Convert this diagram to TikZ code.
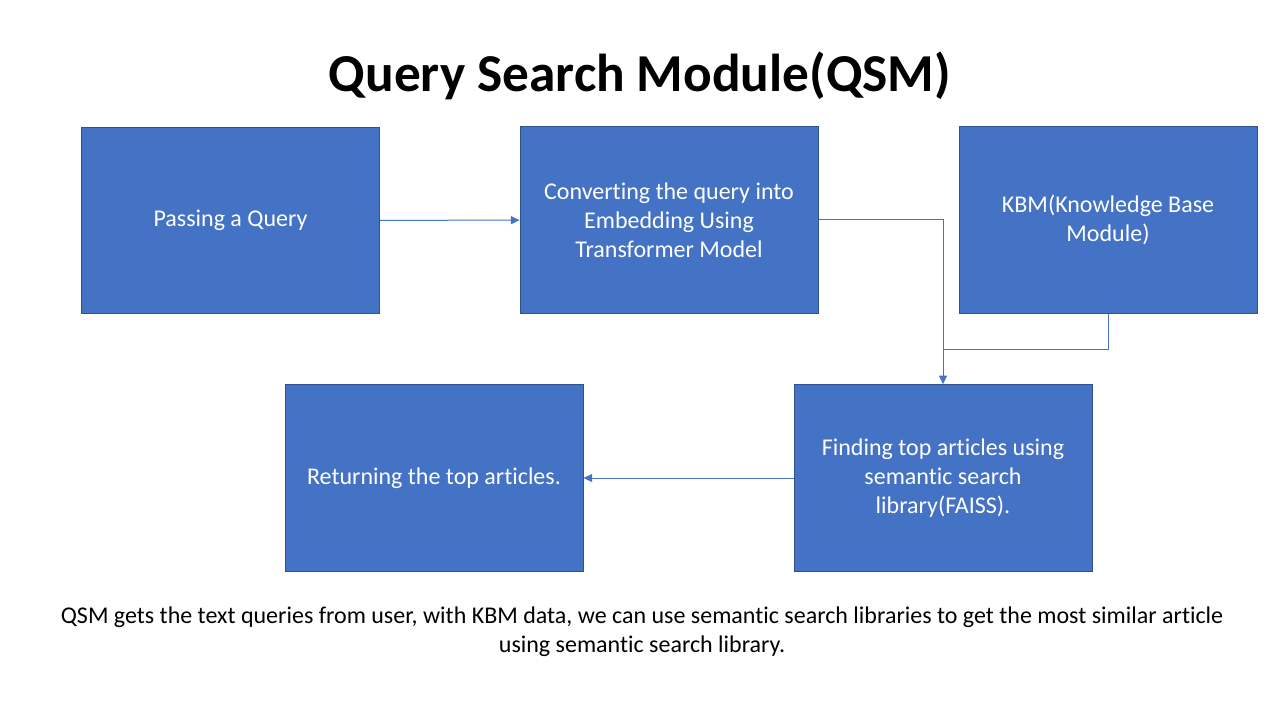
\documentclass[tikz,border=0pt]{standalone}
\usepackage{fontspec}
\setmainfont{Carlito}[Ligatures={NoCommon}]
\usetikzlibrary{arrows.meta}
\definecolor{boxblue}{HTML}{4472C4}
\definecolor{edgeblue}{HTML}{2F528F}
\tikzset{
  stagebox/.style={rectangle, fill=boxblue, draw=edgeblue, line width=0.75pt,
    minimum width=223.5pt, minimum height=140pt, text=white, align=center,
    inner sep=0pt, font=\fontsize{18}{21.6}\selectfont},
  flow/.style={draw=boxblue, line width=0.75pt, -{Triangle[length=6.5pt,width=6pt]}},
  link/.style={draw=boxblue, line width=0.75pt}
}
\begin{document}
\begin{tikzpicture}[x=0.75pt,y=-0.75pt]
\useasboundingbox (0,0) rectangle (1280,720);
\node (title) at (640,76) {\fontsize{40}{48}\selectfont\bfseries Query Search Module(QSM)};
\node[stagebox] (query) at (230.5,220.5) {Passing a Query};
\node[stagebox] (embed) at (669,220) {Converting the query into\\Embedding Using\\Transformer Model};
\node[stagebox] (kbm) at (1108,220) {KBM(Knowledge Base\\Module)};
\node[stagebox] (faiss) at (943,478) {Finding top articles using\\semantic search\\library(FAISS).};
\node[stagebox] (result) at (434,478) {Returning the top articles.};
\coordinate (turn) at (943,220);
\coordinate (join) at (943,349);
\draw[flow] (query) -- (embed);
\draw[flow] (embed.east) -- (turn) -- (faiss.north);
\draw[link] (kbm.south) |- (join);
\draw[flow] (faiss) -- (result);
\node[align=center, font=\fontsize{18}{21.6}\selectfont] (note) at (642,632)
  {QSM gets the text queries from user, with KBM data, we can use semantic search libraries to get the most similar article\\using semantic search library.};
\end{tikzpicture}
\end{document}
